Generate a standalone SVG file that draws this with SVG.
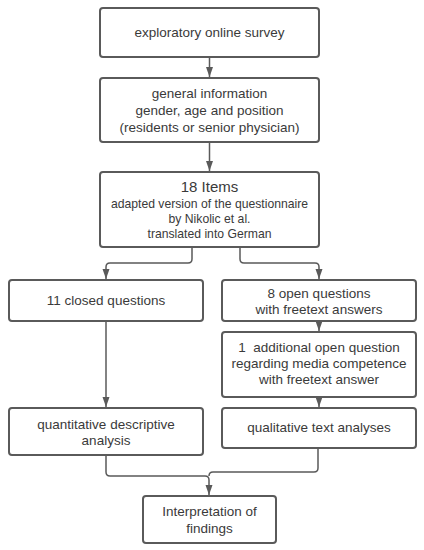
<svg xmlns="http://www.w3.org/2000/svg" width="424" height="550" viewBox="0 0 424 550">
<defs>
<style>
.box{fill:#fff;stroke:#5a5a5a;stroke-width:2}
.t{font-family:"Liberation Sans",Arial,sans-serif;font-size:13.5px;fill:#3a3a3a;text-anchor:middle}
.s{font-size:12.2px}
.big{font-size:15px}
.pre{white-space:pre}
.c{fill:none;stroke:#5a5a5a;stroke-width:1.5}
</style>
<marker id="ah" viewBox="0 0 10 10" refX="10" refY="5" markerWidth="10" markerHeight="10" markerUnits="userSpaceOnUse" orient="auto">
<path d="M0,1.5 L10,5 L0,8.5 Z" fill="#5a5a5a"/>
</marker>
</defs>
<rect width="424" height="550" fill="#fff"/>
<g id="connectors">
<path class="c" d="M209.5,57 V77" marker-end="url(#ah)"/>
<path class="c" d="M209.5,142 V171" marker-end="url(#ah)"/>
<path class="c" d="M192,247 V259 Q192,263 188,263 H110 Q106,263 106,267 V279" marker-end="url(#ah)"/>
<path class="c" d="M240,247 V259 Q240,263 244,263 H315 Q319,263 319,267 V279" marker-end="url(#ah)"/>
<path class="c" d="M319,321 V331" marker-end="url(#ah)"/>
<path class="c" d="M106,321 V407" marker-end="url(#ah)"/>
<path class="c" d="M319,397 V407" marker-end="url(#ah)"/>
<path class="c" d="M106,455 V472 Q106,476 110,476 H205 Q209,476 209,480 V495" marker-end="url(#ah)"/>
<path class="c" d="M318,448 V468 Q318,472 314,472 H213 Q209,472 209,476"/>
</g>
<g id="n1"><rect class="box" x="100" y="8" width="219" height="49" rx="3"/>
<text class="t" x="209.5" y="37">exploratory online survey</text></g>
<g id="n2"><rect class="box" x="100" y="78" width="219" height="64" rx="3"/>
<text class="t" x="209.5" y="98">general information</text>
<text class="t" x="209.5" y="115">gender, age and position</text>
<text class="t" x="209.5" y="132">(residents or senior physician)</text></g>
<g id="n3"><rect class="box" x="100" y="172" width="219" height="75" rx="3"/>
<text class="t big" x="209.5" y="192">18 Items</text>
<text class="t s" x="209.5" y="208">adapted version of the questionnaire</text>
<text class="t s" x="209.5" y="223">by Nikolic et al.</text>
<text class="t s" x="209.5" y="238">translated into German</text></g>
<g id="n4"><rect class="box" x="9" y="280" width="194" height="41" rx="3"/>
<text class="t" x="106" y="305">11 closed questions</text></g>
<g id="n5"><rect class="box" x="222" y="280" width="194" height="41" rx="3"/>
<text class="t" x="319" y="298">8 open questions</text>
<text class="t" x="319" y="314">with freetext answers</text></g>
<g id="n6"><rect class="box" x="222" y="332" width="194" height="65" rx="3"/>
<text class="t pre" x="319" y="352">1  additional open question</text>
<text class="t" x="319" y="368">regarding media competence</text>
<text class="t" x="319" y="384">with freetext answer</text></g>
<g id="n7"><rect class="box" x="9" y="408" width="194" height="47" rx="3"/>
<text class="t" x="106" y="429">quantitative descriptive</text>
<text class="t" x="106" y="445">analysis</text></g>
<g id="n8"><rect class="box" x="222" y="408" width="194" height="40" rx="3"/>
<text class="t" x="319" y="432">qualitative text analyses</text></g>
<g id="n9"><rect class="box" x="143" y="496" width="133" height="47" rx="3"/>
<text class="t" x="209.5" y="516">Interpretation of</text>
<text class="t" x="209.5" y="533">findings</text></g>
</svg>
